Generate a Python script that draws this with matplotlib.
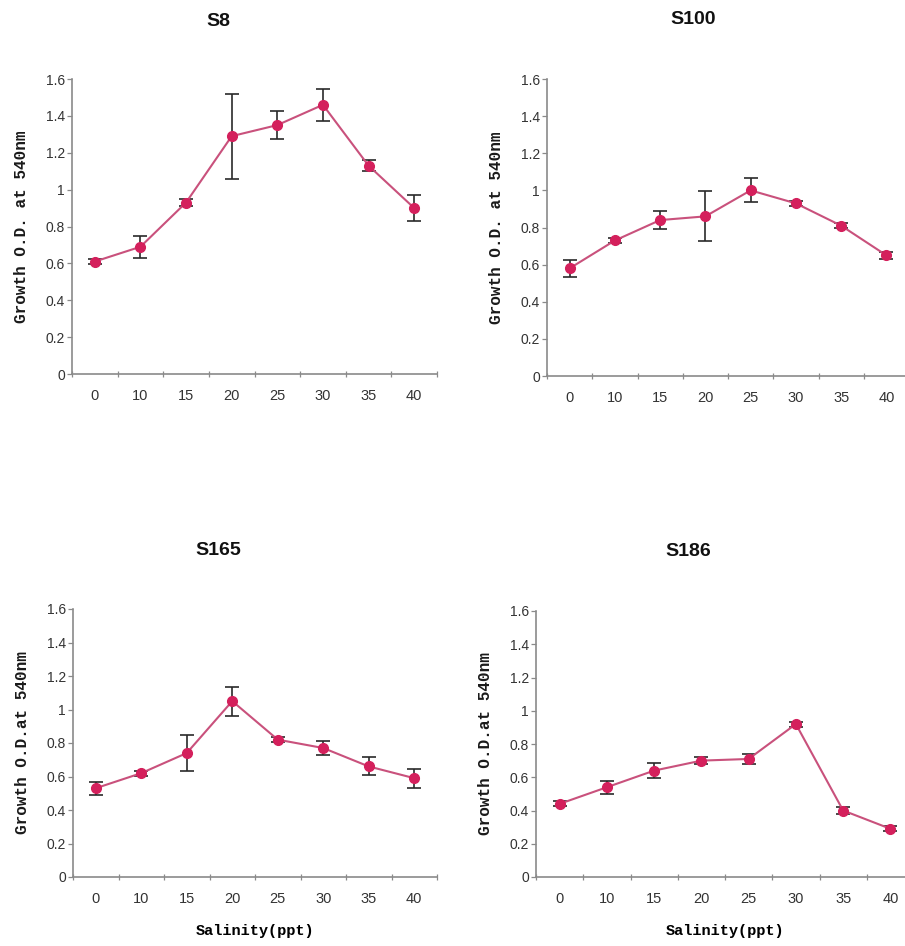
import matplotlib
matplotlib.use("Agg")
import matplotlib.pyplot as plt
import numpy as np

# Salinity levels (ppt) used as categories on every panel
salinity = ["0", "10", "15", "20", "25", "30", "35", "40"]

# Growth (O.D. at 540 nm) and standard errors per isolate
s8_mean = [0.61, 0.69, 0.93, 1.29, 1.35, 1.46, 1.13, 0.90]
s8_err = [0.015, 0.06, 0.02, 0.23, 0.075, 0.087, 0.03, 0.07]

s100_mean = [0.58, 0.73, 0.84, 0.86, 1.00, 0.93, 0.81, 0.65]
s100_err = [0.045, 0.015, 0.05, 0.135, 0.065, 0.015, 0.015, 0.02]

s165_mean = [0.53, 0.62, 0.74, 1.05, 0.82, 0.77, 0.66, 0.59]
s165_err = [0.04, 0.015, 0.11, 0.087, 0.015, 0.042, 0.054, 0.057]

s186_mean = [0.44, 0.54, 0.64, 0.70, 0.71, 0.92, 0.40, 0.29]
s186_err = [0.015, 0.04, 0.047, 0.02, 0.03, 0.015, 0.02, 0.015]

titles = ["S8", "S100", "S165", "S186"]
yticks = [0, 0.2, 0.4, 0.6, 0.8, 1.0, 1.2, 1.4, 1.6]
ytick_labels = ["0", "0.2", "0.4", "0.6", "0.8", "1", "1.2", "1.4", "1.6"]

W, H = 905, 946
fig = plt.figure(figsize=(W / 100, H / 100), dpi=100)

def px_axes(left, top, right, bottom):
    return fig.add_axes([left / W, 1 - bottom / H, (right - left) / W, (bottom - top) / H])

panels = [
    # axes box (px), title centre (px), ylabel text, data
    ((72, 79, 437, 374), (218, 21), "Growth O.D. at 540nm", s8_mean, s8_err, False),
    ((547, 79, 909, 376), (693, 20), "Growth O.D. at 540nm", s100_mean, s100_err, False),
    ((73, 609, 437, 877), (218, 550), "Growth O.D.at 540nm", s165_mean, s165_err, True),
    ((536, 611, 914, 877), (688, 552), "Growth O.D.at 540nm", s186_mean, s186_err, True),
]

line_col = "#c9517c"
mark_col = "#d4205c"
axis_col = "#8a8a8a"
tick_txt = "#333333"

x = np.arange(len(salinity))
for (box, tpos, ylab, mean, err, show_xlabel), title in zip(panels, titles):
    ax = px_axes(*box)
    ax.errorbar(x, mean, yerr=err, fmt="none", ecolor="#2a2a2a",
                elinewidth=1.2, capsize=5, capthick=1.2, zorder=2)
    ax.plot(x, mean, color=line_col, lw=1.5, marker="o", ms=7,
            mfc=mark_col, mec=mark_col, zorder=3)
    ax.set_xlim(-0.5, len(salinity) - 0.5)
    ax.set_ylim(0, 1.6)
    ax.set_yticks(yticks)
    ax.set_yticklabels(ytick_labels, fontsize=10, color=tick_txt,
                       family="Liberation Sans")
    ax.set_xticks(x)
    ax.set_xticklabels(salinity, fontsize=10.5, color=tick_txt,
                       family="Liberation Sans")
    ax.set_xticks(np.arange(-0.5, len(salinity)), minor=True)
    ax.tick_params(axis="x", which="major", length=0, pad=11)
    ax.tick_params(axis="x", which="minor", length=4, direction="inout",
                   color=axis_col, width=0.9)
    ax.tick_params(axis="y", length=3.5, color=axis_col, width=0.9, pad=1.5)
    for s in ("top", "right"):
        ax.spines[s].set_visible(False)
    for s in ("left", "bottom"):
        ax.spines[s].set_color(axis_col)
        ax.spines[s].set_linewidth(1.2)
    ax.set_ylabel(ylab, fontsize=11.5, fontweight="bold",
                  family="Liberation Mono", color="#1a1a1a", labelpad=12)
    if show_xlabel:
        ax.set_xlabel("Salinity(ppt)", fontsize=11, fontweight="bold",
                      family="Liberation Mono", color="#000000", labelpad=13)
    fig.text(tpos[0] / W, 1 - tpos[1] / H, title, ha="center", va="center",
             fontsize=14, fontweight="bold", family="Liberation Sans",
             color="#111111")

fig.savefig("out.png", dpi=100, facecolor="white")
